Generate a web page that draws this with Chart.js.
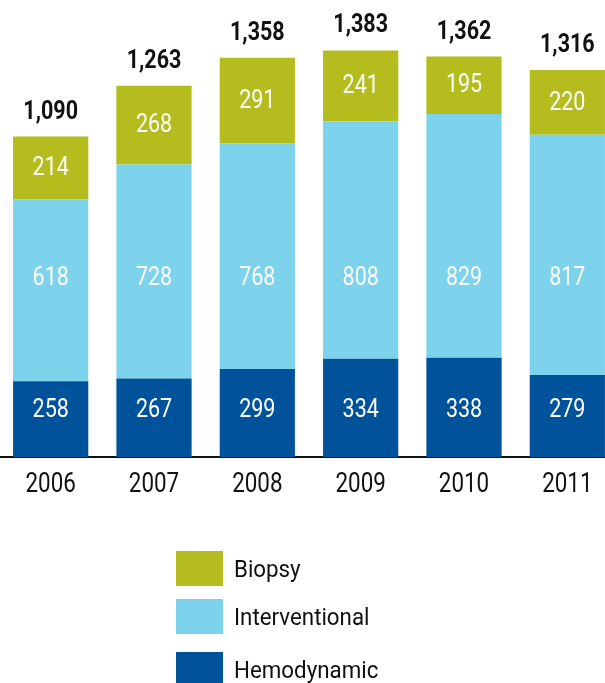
<!DOCTYPE html>
<html>
<head>
<meta charset="utf-8">
<script src="https://cdn.jsdelivr.net/npm/chart.js@4.4.6/dist/chart.umd.min.js"></script>
<style>
  html, body { margin: 0; padding: 0; background: #fff; overflow: hidden; }
  #wrap { position: relative; width: 605px; height: 683px; overflow: hidden; }
  #c { position: absolute; left: -1px; top: 0; }
  .lg { position: absolute; left: 176px; height: 35px; display: flex; align-items: center; font-family: Roboto, sans-serif; font-size: 24px; color: #111; }
  .lg span.box { width: 47px; height: 35px; margin-right: 11px; flex: none; }
  .lg span.txt { display: inline-block; transform: scaleX(0.93); transform-origin: left center; white-space: nowrap; }
</style>
</head>
<body>
<div id="wrap">
  <canvas id="c" width="620" height="683"></canvas>
</div>
<script>
// données
const years = ['2006', '2007', '2008', '2009', '2010', '2011']
const hemodynamic = [258, 267, 299, 334, 338, 279]
const interventional = [618, 728, 768, 808, 829, 817]
const biopsy = [214, 268, 291, 241, 195, 220]
const totals = [1090, 1263, 1358, 1383, 1362, 1316]

const FONT = 'Roboto, sans-serif'
const COLORS = { hemo: '#00539B', inter: '#7DD3EC', biopsy: '#B5BD1E' }

// texte condensé : Roboto compressé horizontalement
function narrowText (ctx, txt, x, y, squeeze) {
  ctx.save()
  ctx.translate(x, y)
  ctx.scale(squeeze, 1)
  ctx.fillText(txt, 0, 0)
  ctx.restore()
}

// étiquettes : valeurs dans les segments, années, total au-dessus
const labelsPlugin = {
  id: 'labels',
  afterDatasetsDraw (chart) {
    const ctx = chart.ctx
    const yScale = chart.scales.y
    const xScale = chart.scales.x
    ctx.save()
    ctx.textAlign = 'center'
    ctx.textBaseline = 'middle'
    ctx.font = '25px ' + FONT
    ctx.fillStyle = '#fff'
    chart.data.datasets.forEach((ds, di) => {
      chart.getDatasetMeta(di).data.forEach((bar, i) => {
        const y = ds.labelAt != null ? yScale.getPixelForValue(ds.labelAt) : (bar.y + bar.base) / 2
        narrowText(ctx, String(ds.data[i]), bar.x, y + 1, 0.86)
      })
    })
    const top = chart.getDatasetMeta(chart.data.datasets.length - 1).data
    ctx.font = 'bold 25px ' + FONT
    ctx.fillStyle = '#111'
    ctx.textBaseline = 'alphabetic'
    top.forEach((bar, i) => {
      narrowText(ctx, totals[i].toLocaleString('en-US'), bar.x, bar.y - 18, 0.86)
    })
    ctx.font = '27px ' + FONT
    years.forEach((yr, i) => {
      narrowText(ctx, yr, xScale.getPixelForTick(i), chart.chartArea.bottom + 35, 0.83)
    })
    ctx.restore()
  }
}

new Chart(document.getElementById('c'), {
  type: 'bar',
  data: {
    labels: years,
    datasets: [
      { label: 'Hemodynamic', data: hemodynamic, backgroundColor: COLORS.hemo, labelAt: 160 },
      { label: 'Interventional', data: interventional, backgroundColor: COLORS.inter, labelAt: 609 },
      { label: 'Biopsy', data: biopsy, backgroundColor: COLORS.biopsy }
    ]
  },
  options: {
    responsive: false,
    animation: false,
    layout: { padding: { top: 16, bottom: 226, left: 0, right: 0 } },
    datasets: { bar: { barPercentage: 0.728, categoryPercentage: 1 } },
    plugins: { legend: { display: false }, tooltip: { enabled: false } },
    scales: {
      x: {
        stacked: true,
        grid: { display: false, drawTicks: false },
        border: { display: true, color: '#111', width: 2 },
        ticks: { display: false }
      },
      y: {
        stacked: true,
        display: false,
        min: 0,
        max: 1500
      }
    }
  },
  plugins: [labelsPlugin]
})

// légende HTML (verticale)
const legendItems = [
  { name: 'Biopsy', color: COLORS.biopsy, top: 551 },
  { name: 'Interventional', color: COLORS.inter, top: 599 },
  { name: 'Hemodynamic', color: COLORS.hemo, top: 652 }
]
const wrap = document.getElementById('wrap')
legendItems.forEach(it => {
  const d = document.createElement('div')
  d.className = 'lg'
  d.style.top = it.top + 'px'
  d.innerHTML = '<span class="box" style="background:' + it.color + '"></span><span class="txt">' + it.name + '</span>'
  wrap.appendChild(d)
})
</script>
</body>
</html>
